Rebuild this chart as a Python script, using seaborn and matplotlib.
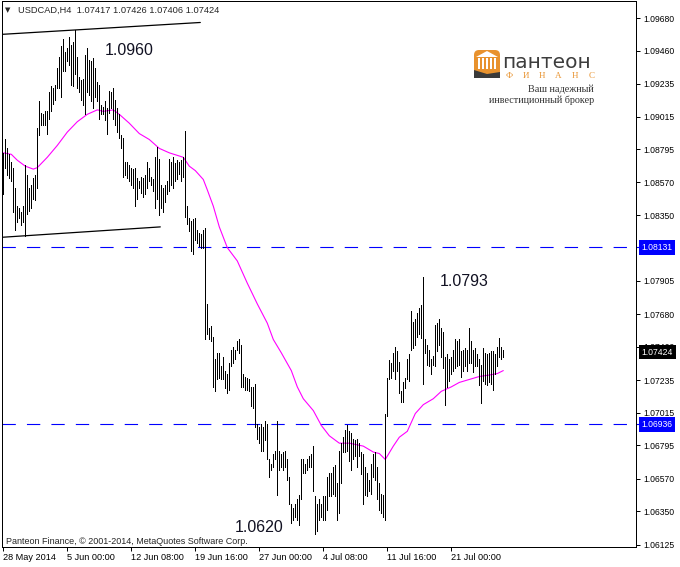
import matplotlib
matplotlib.use('Agg')
import matplotlib.pyplot as plt
import matplotlib.transforms as mtransforms
from matplotlib.patches import FancyBboxPatch, Polygon, Rectangle
import pandas as pd
import seaborn as sns

sns.set_style('white')
plt.rcParams['font.family'] = ['Liberation Sans', 'DejaVu Sans']

symbol_line = 'USDCAD,H4  1.07417 1.07426 1.07406 1.07424'
copyright_line = 'Panteon Finance, \u00a9 2001-2014, MetaQuotes Software Corp.'

# H4 bars (high / low)
bar_high = [
    1.0877, 1.0886, 1.0880, 1.0876, 1.0871, 1.0867, 1.0853, 1.0841, 1.0840, 1.0837,
    1.0841, 1.0869, 1.0862, 1.0853, 1.0855, 1.0860, 1.0862, 1.0894, 1.0912, 1.0904,
    1.0903, 1.0905, 1.0905, 1.0918, 1.0922, 1.0921, 1.0923, 1.0934, 1.0942, 1.0949,
    1.0954, 1.0945, 1.0948, 1.0955, 1.0950, 1.0952, 1.0960, 1.0942, 1.0928, 1.0926,
    1.0927, 1.0943, 1.0948, 1.0940, 1.0939, 1.0941, 1.0934, 1.0925, 1.0923, 1.0909,
    1.0908, 1.0912, 1.0907, 1.0919, 1.0918, 1.0921, 1.0913, 1.0907, 1.0903, 1.0889,
    1.0887, 1.0871, 1.0871, 1.0869, 1.0867, 1.0866, 1.0867, 1.0860, 1.0858, 1.0861,
    1.0860, 1.0862, 1.0871, 1.0867, 1.0861, 1.0859, 1.0874, 1.0881, 1.0873, 1.0855,
    1.0853, 1.0855, 1.0858, 1.0873, 1.0871, 1.0874, 1.0870, 1.0872, 1.0871, 1.0872,
    1.0874, 1.0892, 1.0841, 1.0833, 1.0831, 1.0832, 1.0833, 1.0825, 1.0823, 1.0822,
    1.0825, 1.0826, 1.0775, 1.0759, 1.0760, 1.0753, 1.0738, 1.0742, 1.0742, 1.0733,
    1.0739, 1.0730, 1.0728, 1.0735, 1.0744, 1.0746, 1.0744, 1.0750, 1.0751, 1.0747,
    1.0728, 1.0726, 1.0725, 1.0724, 1.0719, 1.0719, 1.0721, 1.0694, 1.0692, 1.0694,
    1.0692, 1.0696, 1.0694, 1.0670, 1.0667, 1.0674, 1.0676, 1.0696, 1.0676, 1.0674,
    1.0675, 1.0676, 1.0670, 1.0658, 1.0640, 1.0637, 1.0640, 1.0643, 1.0646, 1.0670,
    1.0670, 1.0667, 1.0670, 1.0672, 1.0674, 1.0679, 1.0645, 1.0640, 1.0643, 1.0640,
    1.0645, 1.0645, 1.0658, 1.0661, 1.0661, 1.0665, 1.0666, 1.0654, 1.0676, 1.0681,
    1.0685, 1.0690, 1.0693, 1.0689, 1.0688, 1.0684, 1.0683, 1.0684, 1.0681, 1.0675,
    1.0674, 1.0665, 1.0661, 1.0656, 1.0667, 1.0674, 1.0675, 1.0665, 1.0654, 1.0647,
    1.0646, 1.0701, 1.0725, 1.0737, 1.0735, 1.0742, 1.0746, 1.0743, 1.0736, 1.0716,
    1.0722, 1.0725, 1.0738, 1.0741, 1.0770, 1.0763, 1.0765, 1.0769, 1.0772, 1.0774,
    1.0793, 1.0751, 1.0747, 1.0744, 1.0738, 1.0740, 1.0761, 1.0762, 1.0765, 1.0759,
    1.0756, 1.0739, 1.0741, 1.0738, 1.0739, 1.0744, 1.0751, 1.0750, 1.0751, 1.0743,
    1.0744, 1.0745, 1.0744, 1.0759, 1.0750, 1.0744, 1.0745, 1.0741, 1.0738, 1.0734,
    1.0745, 1.0742, 1.0741, 1.0742, 1.0743, 1.0743, 1.0741, 1.0746, 1.0752, 1.0746,
    1.0744,
]
bar_low = [
    1.0849, 1.0867, 1.0862, 1.0860, 1.0858, 1.0837, 1.0825, 1.0830, 1.0833, 1.0828,
    1.0830, 1.0821, 1.0836, 1.0838, 1.0840, 1.0846, 1.0845, 1.0853, 1.0889, 1.0896,
    1.0896, 1.0896, 1.0890, 1.0900, 1.0905, 1.0910, 1.0913, 1.0921, 1.0921, 1.0915,
    1.0932, 1.0932, 1.0939, 1.0936, 1.0923, 1.0922, 1.0930, 1.0921, 1.0918, 1.0913,
    1.0909, 1.0903, 1.0918, 1.0916, 1.0912, 1.0907, 1.0915, 1.0912, 1.0900, 1.0903,
    1.0903, 1.0899, 1.0890, 1.0904, 1.0907, 1.0900, 1.0896, 1.0891, 1.0887, 1.0880,
    1.0861, 1.0862, 1.0860, 1.0858, 1.0855, 1.0853, 1.0841, 1.0846, 1.0853, 1.0850,
    1.0847, 1.0849, 1.0853, 1.0858, 1.0855, 1.0851, 1.0840, 1.0846, 1.0835, 1.0840,
    1.0837, 1.0844, 1.0849, 1.0851, 1.0855, 1.0853, 1.0858, 1.0859, 1.0863, 1.0858,
    1.0861, 1.0834, 1.0829, 1.0824, 1.0811, 1.0809, 1.0818, 1.0816, 1.0814, 1.0813,
    1.0813, 1.0751, 1.0755, 1.0751, 1.0750, 1.0719, 1.0716, 1.0724, 1.0725, 1.0724,
    1.0724, 1.0718, 1.0715, 1.0717, 1.0733, 1.0735, 1.0738, 1.0744, 1.0742, 1.0719,
    1.0719, 1.0717, 1.0717, 1.0716, 1.0706, 1.0705, 1.0692, 1.0684, 1.0681, 1.0676,
    1.0676, 1.0683, 1.0670, 1.0658, 1.0663, 1.0665, 1.0670, 1.0646, 1.0663, 1.0665,
    1.0663, 1.0665, 1.0656, 1.0640, 1.0627, 1.0629, 1.0631, 1.0629, 1.0626, 1.0643,
    1.0661, 1.0661, 1.0663, 1.0665, 1.0665, 1.0649, 1.0620, 1.0622, 1.0629, 1.0631,
    1.0629, 1.0629, 1.0636, 1.0645, 1.0645, 1.0647, 1.0645, 1.0629, 1.0634, 1.0654,
    1.0675, 1.0675, 1.0676, 1.0669, 1.0663, 1.0670, 1.0672, 1.0665, 1.0672, 1.0660,
    1.0640, 1.0646, 1.0645, 1.0649, 1.0647, 1.0658, 1.0656, 1.0643, 1.0636, 1.0634,
    1.0631, 1.0629, 1.0699, 1.0724, 1.0725, 1.0730, 1.0724, 1.0730, 1.0715, 1.0709,
    1.0709, 1.0718, 1.0724, 1.0723, 1.0744, 1.0745, 1.0747, 1.0753, 1.0755, 1.0752,
    1.0721, 1.0742, 1.0734, 1.0733, 1.0728, 1.0734, 1.0733, 1.0743, 1.0747, 1.0739,
    1.0732, 1.0707, 1.0719, 1.0723, 1.0728, 1.0730, 1.0732, 1.0733, 1.0734, 1.0726,
    1.0730, 1.0733, 1.0730, 1.0735, 1.0735, 1.0729, 1.0733, 1.0733, 1.0720, 1.0708,
    1.0723, 1.0721, 1.0720, 1.0722, 1.0721, 1.0717, 1.0728, 1.0733, 1.0739, 1.0738,
    1.0739,
]

# moving average (magenta), read at selected bars
ma_bar = [0, 4, 7, 11, 15, 17, 22, 27, 32, 37, 42, 47, 50, 55, 58, 63, 68, 73, 78, 83,
          90, 93, 96, 100, 102, 105, 108, 112, 117, 122, 127, 132, 135, 139, 144, 147, 150,
          155, 159, 163, 168, 173, 180, 185, 188, 191, 195, 198, 202, 206, 210, 215, 219,
          224, 228, 233, 238, 243, 247, 250]
ma_value = [1.0877, 1.0876, 1.0872, 1.0868, 1.0866, 1.0867, 1.0874, 1.0882, 1.0891, 1.0898,
            1.0903, 1.0906, 1.0905, 1.0906, 1.0903, 1.0897, 1.0890, 1.0886, 1.0880, 1.0877,
            1.0874, 1.0868, 1.0865, 1.0859, 1.0852, 1.0841, 1.0827, 1.0813, 1.0804, 1.0789,
            1.0775, 1.0762, 1.0751, 1.0742, 1.0730, 1.0719, 1.0711, 1.0703, 1.0693, 1.0686,
            1.0681, 1.0681, 1.0679, 1.0675, 1.0674, 1.0670, 1.0679, 1.0685, 1.0689, 1.0701,
            1.0707, 1.0711, 1.0716, 1.0719, 1.0722, 1.0724, 1.0726, 1.0727, 1.0728, 1.0730]

upper_trend_bar = [-0.5, 98.5]
upper_trend_price = [1.0957, 1.0965]
lower_trend_bar = [-0.5, 78.5]
lower_trend_price = [1.0820, 1.0827]

levels = [1.08131, 1.06936]
last_price = 1.07424

price_ticks = [1.09680, 1.09460, 1.09235, 1.09015, 1.08795, 1.08570, 1.08350, 1.07905,
               1.07680, 1.07460, 1.07235, 1.07015, 1.06795, 1.06570, 1.06350, 1.06125]
time_tick_bars = [0, 32, 64, 96, 128, 160, 192, 224]
time_tick_labels = ['28 May 2014', '5 Jun 00:00', '12 Jun 08:00', '19 Jun 16:00',
                    '27 Jun 00:00', '4 Jul 08:00', '11 Jul 16:00', '21 Jul 00:00']

mark_text = ['1.0960', '1.0793', '1.0620']
mark_bar = [50.9, 218.4, 115.9]
mark_price = [1.09464, 1.07898, 1.06244]

W, H = 680, 567
bars = pd.DataFrame({'bar': range(len(bar_high)), 'high': bar_high, 'low': bar_low})
ma = pd.DataFrame({'bar': ma_bar, 'ma': ma_value})

fig = plt.figure(figsize=(W / 100, H / 100), dpi=100)
ax = fig.add_axes([2.3 / W, 20 / H, 633.7 / W, 546 / H])
x_lo, x_hi = -0.5, -0.5 + 633.7 / 2
ax.set_xlim(x_lo, x_hi)
ax.set_ylim(1.06109, 1.09795)

ax.vlines(bars['bar'], bars['low'], bars['high'], colors='black', linewidth=0.72,
          antialiased=False, zorder=3)
sns.lineplot(data=ma, x='bar', y='ma', color='#ff00ff', linewidth=0.8, ax=ax, zorder=2)
ax.plot(upper_trend_bar, upper_trend_price, color='black', lw=0.9, zorder=3)
ax.plot(lower_trend_bar, lower_trend_price, color='black', lw=0.9, zorder=3)
for lv in levels:
    ax.plot([x_lo, x_hi], [lv, lv], color='#0000ff', linewidth=0.8,
            dashes=(12, 10), dash_capstyle='butt', zorder=1)

for t, b, p in zip(mark_text, mark_bar, mark_price):
    ax.text(b, p, t, fontsize=11.5, color='#111122', va='center', ha='left')

ax.set_xlabel(None)
ax.set_ylabel(None)
for s in ax.spines.values():
    s.set_color('black')
    s.set_linewidth(0.72)

ax.yaxis.tick_right()
ax.set_yticks(price_ticks)
ax.set_yticklabels([f'{v:.5f}' for v in price_ticks])
ax.tick_params(axis='y', direction='out', length=3, width=0.72, pad=2,
               labelsize=6.2, colors='black', right=True, left=False)
ax.set_xticks(time_tick_bars)
ax.set_xticklabels(time_tick_labels, ha='left')
ax.tick_params(axis='x', direction='out', length=3, width=0.72, pad=1.5,
               labelsize=6.6, colors='black', bottom=True)

trans = mtransforms.blended_transform_factory(ax.transAxes, ax.transData)
for lv in levels:
    ax.plot([1.0, 1.008], [lv, lv], color='#0000ff', lw=0.8, transform=trans, clip_on=False)
    ax.text(1.009, lv, f'{lv:.5f}', transform=trans, color='white', fontsize=6.2,
            va='center', ha='left', zorder=6, clip_on=False,
            bbox=dict(boxstyle='square,pad=0.3', fc='#0000ff', ec='none'))
ax.text(1.009, last_price, f'{last_price:.5f}', transform=trans, color='white', fontsize=6.2,
        va='center', ha='left', zorder=6, clip_on=False,
        bbox=dict(boxstyle='square,pad=0.3', fc='black', ec='none'))

fig.text(5 / W, 1 - 10 / H, '\u25bc', fontsize=5, family=['DejaVu Sans'], va='center')
fig.text(18 / W, 1 - 10 / H, symbol_line, fontsize=6.7, va='center')
fig.text(6 / W, 1 - 541 / H, copyright_line, fontsize=6.5, va='center')

# broker logo
lg = fig.add_axes([468 / W, 1 - 106 / H, 132 / W, 62 / H])
lg.set_xlim(468, 600)
lg.set_ylim(106, 44)
lg.axis('off')
lg.add_patch(FancyBboxPatch((474, 50), 26, 28, boxstyle='round,pad=0,rounding_size=5',
                            fc='#e8922e', ec='none'))
lg.add_patch(Polygon([(476, 57), (487, 51), (498, 57)], closed=True, fc='white', ec='none'))
for cx in [478, 482, 486, 490, 494]:
    lg.add_patch(Rectangle((cx, 58), 2, 11, fc='white', ec='none'))
lg.add_patch(Polygon([(474, 70), (487, 74), (500, 72), (500, 78), (474, 78)],
                     closed=True, fc='#3a3a3a', ec='none'))
lg.text(502, 62, 'пантеон', fontsize=14.5, color='#3d3d3d', va='center', ha='left',
        family=['DejaVu Sans'])
for k, ch in enumerate('ФИНАНС'):
    lg.text(509 + 16.5 * k, 76, ch, fontsize=6.5, color='#e8922e', va='center', ha='center',
            family=['Liberation Serif'])
lg.text(594, 89, 'Ваш надежный', fontsize=7.3, color='#333333', va='center', ha='right',
        family=['Liberation Serif'])
lg.text(594, 100, 'инвестиционный брокер', fontsize=7.3, color='#333333', va='center',
        ha='right', family=['Liberation Serif'])

fig.savefig('out.png', dpi=100)
